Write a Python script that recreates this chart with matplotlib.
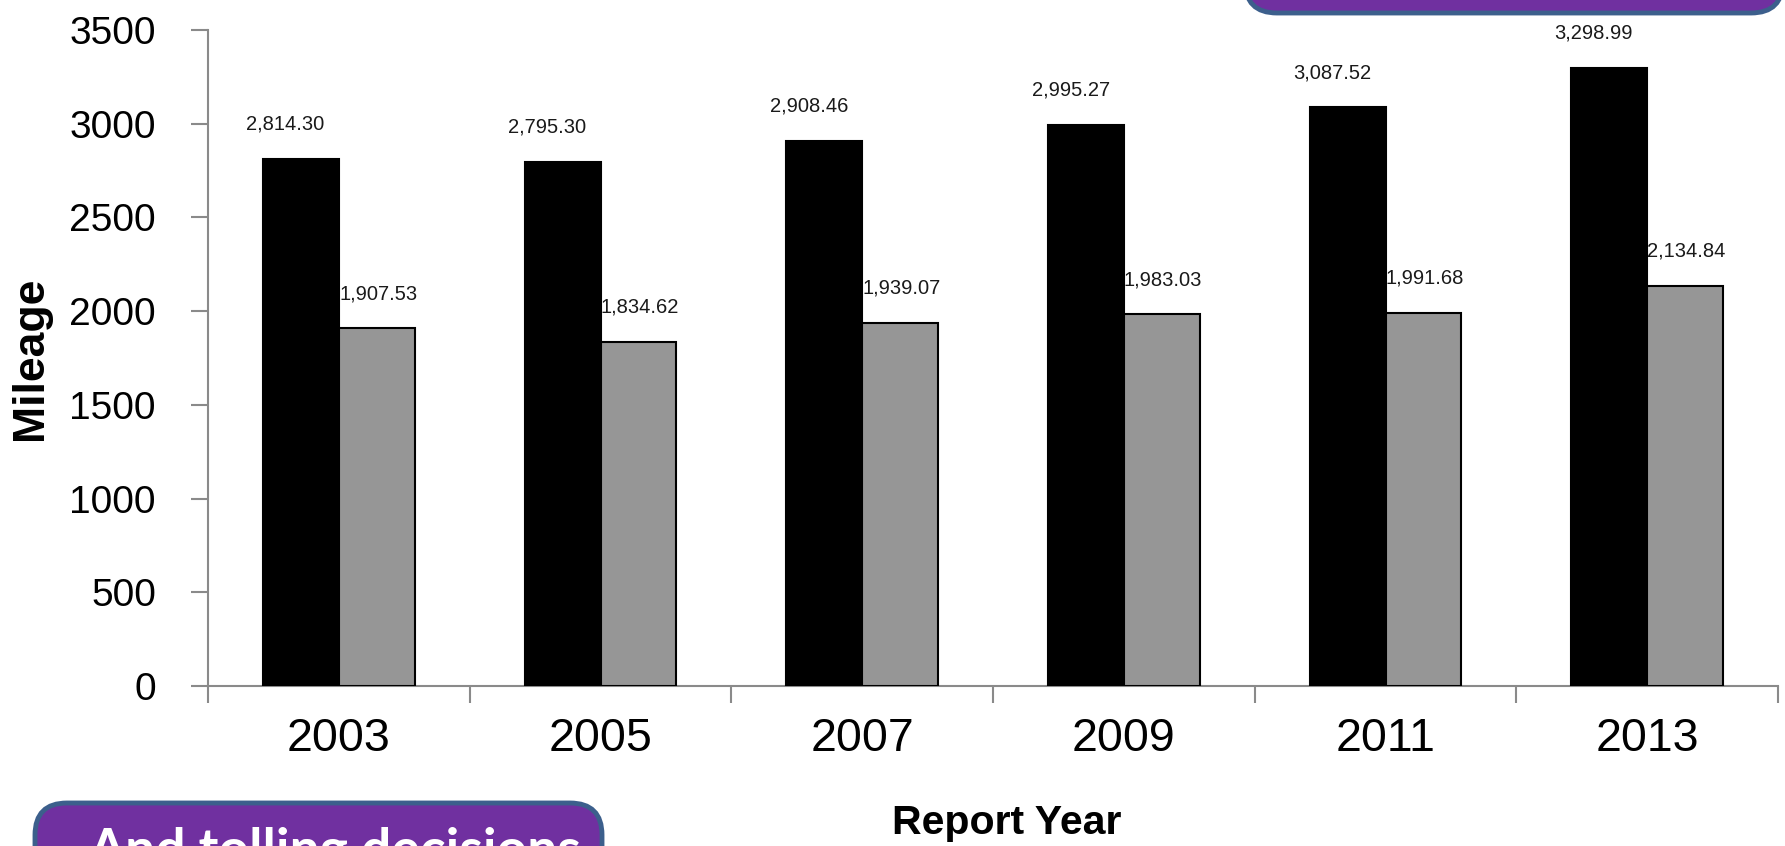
import matplotlib
matplotlib.use("Agg")
import matplotlib.pyplot as plt
from matplotlib.patches import FancyBboxPatch
import numpy as np

years = ["2003", "2005", "2007", "2009", "2011", "2013"]
series_black = [2814.30, 2795.30, 2908.46, 2995.27, 3087.52, 3298.99]
series_gray = [1907.53, 1834.62, 1939.07, 1983.03, 1991.68, 2134.84]
y_ticks = [0, 500, 1000, 1500, 2000, 2500, 3000, 3500]
callout_text = "And tolling decisions"

plt.rcParams['font.family'] = ['Liberation Sans', 'DejaVu Sans']

W, H = 1785, 846
fig = plt.figure(figsize=(W / 100, H / 100), dpi=100)
ax = fig.add_axes([208 / W, (H - 686) / H, (1778 - 208) / W, (686 - 30) / H])

x = np.arange(len(years))
bw = 0.29
axis_col = '#8a8a8a'
b1 = ax.bar(x - bw / 2, series_black, bw, color='#000000', edgecolor='#000000', linewidth=1.5, zorder=3)
b2 = ax.bar(x + bw / 2, series_gray, bw, color='#969696', edgecolor='#000000', linewidth=1.5, zorder=3)

for bars, vals, dx in ((b1, series_black, -11), (b2, series_gray, 1)):
    for r, v in zip(bars, vals):
        ax.annotate(f"{v:,.2f}", (r.get_x() + r.get_width() / 2, v), xytext=(dx, 21),
                    textcoords='offset points', ha='center', va='baseline',
                    fontsize=14.5, color='#1a1a1a')

ax.set_xlim(-0.5, len(years) - 0.5)
ax.set_ylim(0, 3500)
ax.set_yticks(y_ticks)
ax.set_yticklabels([str(t) for t in y_ticks], fontsize=28)
ax.set_xticks(x)
ax.set_xticklabels(years, fontsize=33.5)
ax.set_xticks(np.arange(len(years) + 1) - 0.5, minor=True)
ax.tick_params(axis='x', which='major', length=0, pad=22.5)
ax.tick_params(axis='x', which='minor', length=12, width=1.5, color=axis_col, direction='out')
ax.tick_params(axis='y', which='major', length=12, width=1.5, color=axis_col, pad=25.5)

for s in ('top', 'right'):
    ax.spines[s].set_visible(False)
for s in ('left', 'bottom'):
    ax.spines[s].set_color(axis_col)
    ax.spines[s].set_linewidth(1.5)

ax.set_ylabel("Mileage", fontsize=32, fontweight='bold')
ax.yaxis.set_label_coords(-(208 - 30) / (1778 - 208), 0.5)
ax.yaxis.label.set_va('center')
fig.text(1007 / W, (H - 834) / H, "Report Year", fontsize=29.5, fontweight='bold',
         ha='center', va='baseline')

ov = fig.add_axes([0, 0, 1, 1])
ov.set_xlim(0, W)
ov.set_ylim(H, 0)
ov.axis('off')
ov.add_patch(FancyBboxPatch((35, 803), 567, 120, boxstyle="round,pad=0,rounding_size=32",
                            facecolor='#7030A0', edgecolor='#3C5F8C', linewidth=3.5))
ov.add_patch(FancyBboxPatch((1245, -100), 538, 113, boxstyle="round,pad=0,rounding_size=32",
                            facecolor='#7030A0', edgecolor='#3C5F8C', linewidth=3.5))
ov.text(335, 866, callout_text, color='white', fontsize=38.5, fontweight='bold',
        ha='center', va='baseline', family=['Lato', 'DejaVu Sans'])

fig.savefig("out.png", dpi=100)
